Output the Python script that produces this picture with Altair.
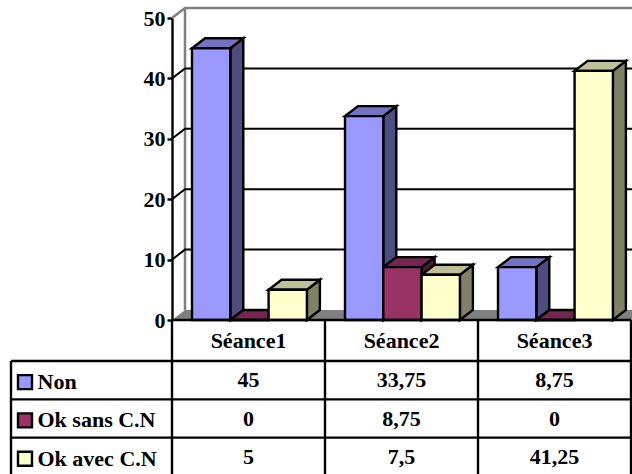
import altair as alt
import pandas as pd

# Values of the chart's data table
seances = ["Séance1", "Séance2", "Séance3"]
series = ["Non", "Ok sans C.N", "Ok avec C.N"]
values = {
    "Non": [45, 33.75, 8.75],
    "Ok sans C.N": [0, 8.75, 0],
    "Ok avec C.N": [5, 7.5, 41.25],
}
labels = {
    "Non": ["45", "33,75", "8,75"],
    "Ok sans C.N": ["0", "8,75", "0"],
    "Ok avec C.N": ["5", "7,5", "41,25"],
}
front = ["#9999FF", "#993366", "#FFFFCC"]
side = ["#4D4D80", "#4D1A33", "#808066"]
top = ["#7373BF", "#732650", "#BFBF99"]
ticks = [0, 10, 20, 30, 40, 50]

# Layout of the pseudo-3D box: x is in category units, y in value units
PLOT_W, PLOT_H = 460, 302
X_MAX = 3.01
DX = 13 / 153
DY = 10 / 6.04
GAP = 20 / 153
BAR = 38.3 / 153
FONT = "Liberation Serif"
FS = 22
LINE = 2.4

x_scale = alt.Scale(domain=[0, PLOT_W / 153], nice=False, zero=False)
y_scale = alt.Scale(domain=[0, 50], nice=False, zero=False)
value_axis = alt.Axis(values=ticks, labelFont=FONT, labelFontWeight="bold",
                      labelFontSize=FS, labelColor="black", grid=False,
                      domainColor="black", domainWidth=LINE, tickColor="black",
                      tickWidth=LINE, tickSize=5, labelPadding=2)
X = lambda f: alt.X(f, type="quantitative", scale=x_scale, title=None, axis=None)
Y = lambda f: alt.Y(f, type="quantitative", scale=y_scale, title=None, axis=value_axis)
FILL = alt.Color("c:N", scale=None, legend=None)

front_rows, side_rows, top_rows = [], [], []
for c in range(3):
    for s, name in enumerate(series):
        v = values[name][c]
        l = c + GAP + s * BAR
        r = l + BAR
        key = f"{c}-{s}"
        front_rows.append(dict(l=l, r=r, v=v, c=front[s]))
        side_rows += [dict(k=key, c=side[s], x=r, y=0, y2=v),
                      dict(k=key, c=side[s], x=r + DX, y=DY, y2=v + DY)]
        top_rows += [dict(k=key, c=top[s], y=v, x=l, x2=r),
                     dict(k=key, c=top[s], y=v + DY, x=l + DX, x2=r + DX)]

# Floor and back wall
floor = alt.Chart(pd.DataFrame([
    dict(y=0, x=0, x2=X_MAX), dict(y=DY, x=DX, x2=X_MAX)
])).mark_area(orient="horizontal", color="#808080").encode(y=Y("y"), x=X("x"), x2="x2:Q")

wall_edges = alt.Chart(pd.DataFrame([
    dict(g="a", x=0, y=50), dict(g="a", x=DX, y=50 + DY),
    dict(g="a", x=X_MAX, y=50 + DY),
    dict(g="b", x=DX, y=50 + DY), dict(g="b", x=DX, y=DY),
])).mark_line(color="#808080", strokeWidth=2.5).encode(x=X("x"), y=Y("y"), detail="g:N", order=alt.Order("x:Q"))

grid_rows = []
for t in ticks[1:-1]:
    grid_rows += [dict(t=t, x=0, y=t), dict(t=t, x=DX, y=t + DY), dict(t=t, x=X_MAX, y=t + DY)]
grid = alt.Chart(pd.DataFrame(grid_rows)).mark_line(color="black", strokeWidth=2).encode(
    x=X("x"), y=Y("y"), detail="t:N")

# Bars: side faces, then top faces, then front faces
sides = alt.Chart(pd.DataFrame(side_rows)).mark_area(stroke="black", strokeWidth=LINE).encode(
    x=X("x"), y=Y("y"), y2="y2:Q", detail="k:N", color=FILL)
tops = alt.Chart(pd.DataFrame(top_rows)).mark_area(orient="horizontal", stroke="black", strokeWidth=LINE).encode(
    y=Y("y"), x=X("x"), x2="x2:Q", detail="k:N", color=FILL)
fronts = alt.Chart(pd.DataFrame(front_rows)).mark_rect(stroke="black", strokeWidth=LINE).encode(
    x=X("l"), x2="r:Q", y=Y("v"), y2=alt.datum(0), color=FILL)

# Data table below the plot, on a row scale of its own
ROW_LEFT = -161 / 153
row_scale = alt.Scale(domain=[0, 1, 4], range=[302, 343, 458], nice=False, zero=False)
RY = lambda f: alt.Y(f, type="quantitative", scale=row_scale, axis=None, title=None)

h_rows = [dict(y=0, x=0, x2=3)] + [dict(y=r, x=ROW_LEFT, x2=3) for r in (1, 2, 3)]
h_lines = alt.Chart(pd.DataFrame(h_rows)).mark_rule(color="black", strokeWidth=LINE).encode(
    y=RY("y"), x=X("x"), x2="x2:Q")
v_rows = [dict(x=ROW_LEFT, y=1, y2=4)] + [dict(x=i, y=0, y2=4) for i in range(4)]
v_lines = alt.Chart(pd.DataFrame(v_rows)).mark_rule(color="black", strokeWidth=LINE).encode(
    x=X("x"), y=RY("y"), y2="y2:Q")

cells = [dict(x=c + 0.5, y=0.5, t=seances[c]) for c in range(3)]
for r, name in enumerate(series):
    cells += [dict(x=c + 0.5, y=r + 1.5, t=labels[name][c]) for c in range(3)]
cell_text = alt.Chart(pd.DataFrame(cells)).mark_text(
    font=FONT, fontWeight="bold", fontSize=FS, color="black").encode(
    x=X("x"), y=RY("y"), text="t:N")

legend_df = pd.DataFrame([dict(y=r + 1.55, t=n, c=front[r]) for r, n in enumerate(series)])
legend_df["x"] = -147 / 153
legend_df["tx"] = -134.5 / 153
swatches = alt.Chart(legend_df).mark_point(
    shape="square", size=196, filled=True, stroke="black", strokeWidth=LINE, opacity=1).encode(
    x=X("x"), y=RY("y"), color=FILL)
legend_text = alt.Chart(legend_df).mark_text(
    align="left", font=FONT, fontWeight="bold", fontSize=FS, color="black").encode(
    x=X("tx"), y=RY("y"), text="t:N")

plot = alt.layer(floor, wall_edges, grid, sides, tops, fronts)
table = alt.layer(h_lines, v_lines, cell_text, swatches, legend_text)

chart = alt.layer(plot, table).resolve_scale(y="independent").properties(
    width=PLOT_W, height=PLOT_H,
    padding={"left": 172, "top": 18, "right": 0, "bottom": 154},
    autosize=alt.AutoSizeParams(type="none"),
    background="white",
).configure_view(stroke=None)

chart.save("out.html", embed_options={"renderer": "svg", "actions": False})
